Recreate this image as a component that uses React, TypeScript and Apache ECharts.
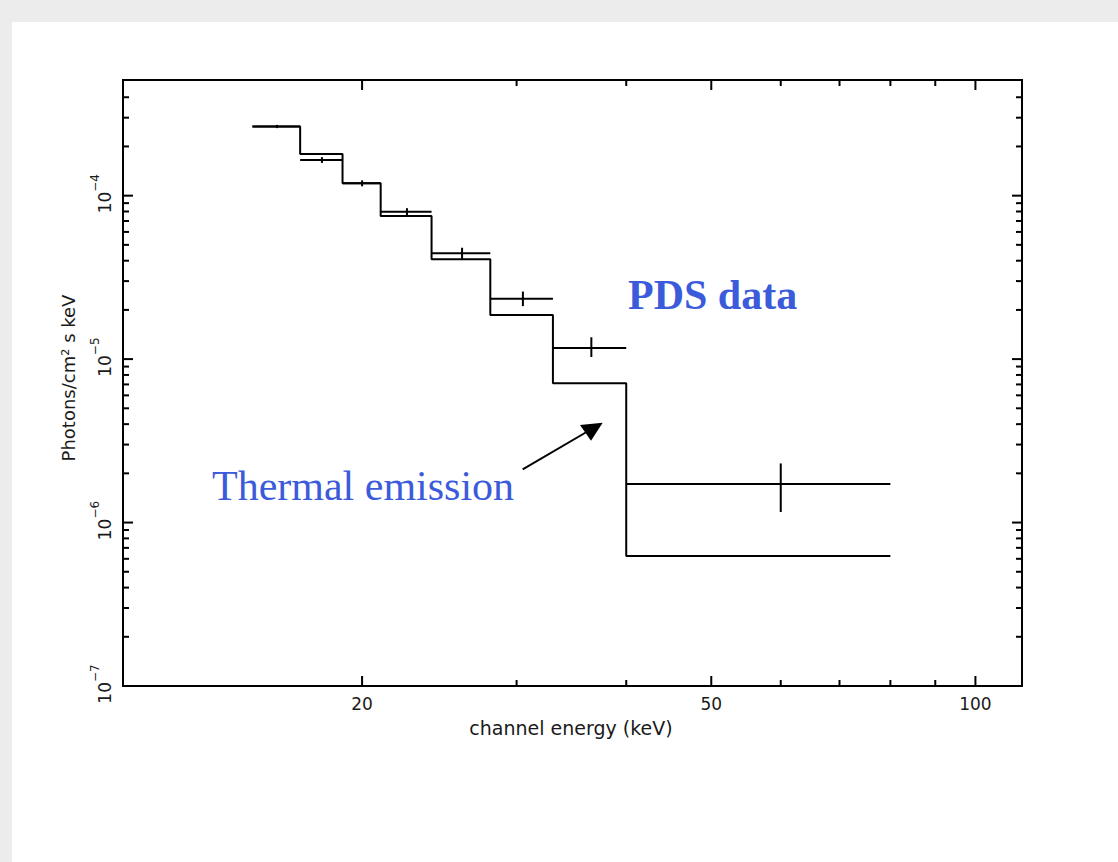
import React, { useEffect, useRef } from "react";
import * as echarts from "echarts";

// Energy bins (keV)
const binLo = [15, 17, 19, 21, 24, 28, 33, 40];
const binHi = [17, 19, 21, 24, 28, 33, 40, 80];
// PDS data points (bin centres), flux and error bars (photons/cm^2 s keV)
const dataEnergy = [16, 18, 20, 22.5, 26, 30.5, 36.5, 60];
const dataFlux = [2.65e-4, 1.65e-4, 1.19e-4, 7.98e-5, 4.44e-5, 2.34e-5, 1.17e-5, 1.72e-6];
const dataErrLo = [2.59e-4, 1.585e-4, 1.14e-4, 7.6e-5, 4.11e-5, 2.11e-5, 1.03e-5, 1.16e-6];
const dataErrHi = [2.71e-4, 1.72e-4, 1.24e-4, 8.38e-5, 4.8e-5, 2.59e-5, 1.36e-5, 2.3e-6];
// Thermal emission model (step per bin)
const modelFlux = [2.65e-4, 1.8e-4, 1.19e-4, 7.51e-5, 4.08e-5, 1.86e-5, 7.11e-6, 6.24e-7];

// Axis ticks
const xMajorTicks = [20, 50, 100];
const xMajorLabels = ["20", "50", "100"];
const xMinorTicks = [30, 40, 60, 70, 80, 90];
const yMajorTicks = [1e-7, 1e-6, 1e-5, 1e-4];
const yMajorExponents = ["\u22127", "\u22126", "\u22125", "\u22124"];
const yMinorTicks = [
  2e-7, 3e-7, 4e-7, 5e-7, 6e-7, 7e-7, 8e-7, 9e-7,
  2e-6, 3e-6, 4e-6, 5e-6, 6e-6, 7e-6, 8e-6, 9e-6,
  2e-5, 3e-5, 4e-5, 5e-5, 6e-5, 7e-5, 8e-5, 9e-5,
  2e-4, 3e-4, 4e-4,
];

const X_MIN = 10.68;
const X_MAX = 113;
const Y_MIN = 1e-7;
const Y_MAX = 5.1e-4;

const AXIS_FONT = '"DejaVu Sans", sans-serif';
const AXIS_COLOR = "#1a1a1a";

export default function App() {
  const ref = useRef<HTMLDivElement>(null);

  useEffect(() => {
    if (!ref.current) return;
    const chart = echarts.init(ref.current, undefined, { renderer: "svg" });

    const modelPoints: number[][] = [];
    binLo.forEach((lo, i) => {
      modelPoints.push([lo, modelFlux[i]]);
      modelPoints.push([binHi[i], modelFlux[i]]);
    });

    const dataRows = dataEnergy.map((e, i) => [
      e, dataFlux[i], dataErrLo[i], dataErrHi[i], binLo[i], binHi[i],
    ]);

    const tickStyle = { stroke: "#000", lineWidth: 2 };

    const xTickRender = (major: boolean) => (params: any, api: any) => {
      const cs = params.coordSys;
      const x = api.coord([api.value(0), Y_MIN])[0];
      const len = major ? 10 : 6;
      const top = cs.y;
      const bottom = cs.y + cs.height;
      const children: any[] = [
        { type: "line", shape: { x1: x, y1: bottom, x2: x, y2: bottom - len }, style: tickStyle },
        { type: "line", shape: { x1: x, y1: top, x2: x, y2: top + len }, style: tickStyle },
      ];
      if (major) {
        children.push({
          type: "text",
          x,
          y: bottom + 18,
          style: {
            text: xMajorLabels[params.dataIndex],
            fill: AXIS_COLOR,
            font: `17px ${AXIS_FONT}`,
            align: "center",
            verticalAlign: "middle",
          },
        });
      }
      return { type: "group", children };
    };

    const yTickRender = (major: boolean) => (params: any, api: any) => {
      const cs = params.coordSys;
      const y = api.coord([X_MIN, api.value(1)])[1];
      const len = major ? 10 : 6;
      const left = cs.x;
      const right = cs.x + cs.width;
      const children: any[] = [
        { type: "line", shape: { x1: left, y1: y, x2: left + len, y2: y }, style: tickStyle },
        { type: "line", shape: { x1: right, y1: y, x2: right - len, y2: y }, style: tickStyle },
      ];
      if (major) {
        children.push({
          type: "text",
          x: left - 22,
          y: y - 2,
          rotation: Math.PI / 2,
          style: {
            text: `{b|10}{s|${yMajorExponents[params.dataIndex]}}`,
            fill: AXIS_COLOR,
            align: "center",
            verticalAlign: "middle",
            rich: {
              b: {
                fontFamily: AXIS_FONT,
                fontSize: 17,
                lineHeight: 24,
                verticalAlign: "bottom",
                fill: AXIS_COLOR,
              },
              s: {
                fontFamily: AXIS_FONT,
                fontSize: 12,
                lineHeight: 14,
                verticalAlign: "top",
                fill: AXIS_COLOR,
              },
            },
          },
        });
      }
      return { type: "group", children };
    };

    const option: any = {
      animation: false,
      backgroundColor: "#ececec",
      grid: {
        left: 123,
        top: 80,
        width: 899,
        height: 606,
        show: true,
        borderColor: "#000",
        borderWidth: 2,
        backgroundColor: "transparent",
        outerBoundsMode: "none",
      },
      xAxis: {
        type: "log",
        logBase: 10,
        min: X_MIN,
        max: X_MAX,
        axisLine: { show: false },
        axisTick: { show: false },
        axisLabel: { show: false },
        splitLine: { show: false },
      },
      yAxis: {
        type: "log",
        logBase: 10,
        min: Y_MIN,
        max: Y_MAX,
        axisLine: { show: false },
        axisTick: { show: false },
        axisLabel: { show: false },
        splitLine: { show: false },
      },
      graphic: [
        {
          type: "rect",
          z: -10,
          silent: true,
          shape: { x: 12, y: 22, width: 1118, height: 862 },
          style: { fill: "#ffffff" },
        },
        {
          type: "text",
          x: 571,
          y: 728,
          silent: true,
          style: {
            text: "channel energy (keV)",
            fill: AXIS_COLOR,
            font: `19px ${AXIS_FONT}`,
            align: "center",
            verticalAlign: "middle",
          },
        },
        {
          type: "text",
          x: 68,
          y: 378,
          rotation: Math.PI / 2,
          silent: true,
          style: {
            text: "Photons/cm\u00B2 s keV",
            fill: AXIS_COLOR,
            font: `18px ${AXIS_FONT}`,
            align: "center",
            verticalAlign: "middle",
          },
        },
        {
          type: "text",
          x: 628,
          y: 295,
          silent: true,
          style: {
            text: "PDS data",
            fill: "#3b5bdb",
            font: 'bold 42px "Liberation Serif", "Times New Roman", serif',
            align: "left",
            verticalAlign: "middle",
          },
        },
        {
          type: "text",
          x: 212,
          y: 486,
          silent: true,
          style: {
            text: "Thermal emission",
            fill: "#3b5bdb",
            font: '42px "Liberation Serif", "Times New Roman", serif',
            align: "left",
            verticalAlign: "middle",
          },
        },
        {
          type: "line",
          silent: true,
          shape: { x1: 522.7, y1: 469.3, x2: 590, y2: 430 },
          style: { stroke: "#000", lineWidth: 2 },
        },
        {
          type: "polygon",
          silent: true,
          shape: { points: [[602.7, 422.7], [580, 425], [591, 440.7]] },
          style: { fill: "#000" },
        },
      ],
      series: [
        {
          name: "Thermal emission model",
          type: "line",
          data: modelPoints,
          showSymbol: false,
          symbol: "none",
          lineStyle: { color: "#000", width: 2 },
          silent: true,
          z: 3,
        },
        {
          name: "PDS data",
          type: "custom",
          data: dataRows,
          encode: { x: 0, y: 1 },
          silent: true,
          clip: false,
          z: 4,
          renderItem: (params: any, api: any) => {
            const c = api.value(0);
            const v = api.value(1);
            const lo = api.value(2);
            const hi = api.value(3);
            const bl = api.value(4);
            const bh = api.value(5);
            const pL = api.coord([bl, v]);
            const pR = api.coord([bh, v]);
            const pB = api.coord([c, lo]);
            const pT = api.coord([c, hi]);
            return {
              type: "group",
              children: [
                { type: "line", shape: { x1: pL[0], y1: pL[1], x2: pR[0], y2: pR[1] }, style: { stroke: "#000", lineWidth: 2 } },
                { type: "line", shape: { x1: pB[0], y1: pB[1], x2: pT[0], y2: pT[1] }, style: { stroke: "#000", lineWidth: 2 } },
              ],
            };
          },
        },
        {
          name: "x major ticks",
          type: "custom",
          data: xMajorTicks.map((v) => [v, Y_MIN]),
          encode: { x: 0, y: 1 },
          silent: true,
          clip: false,
          z: 5,
          renderItem: xTickRender(true),
        },
        {
          name: "x minor ticks",
          type: "custom",
          data: xMinorTicks.map((v) => [v, Y_MIN]),
          encode: { x: 0, y: 1 },
          silent: true,
          clip: false,
          z: 5,
          renderItem: xTickRender(false),
        },
        {
          name: "y major ticks",
          type: "custom",
          data: yMajorTicks.map((v) => [X_MIN, v]),
          encode: { x: 0, y: 1 },
          silent: true,
          clip: false,
          z: 5,
          renderItem: yTickRender(true),
        },
        {
          name: "y minor ticks",
          type: "custom",
          data: yMinorTicks.map((v) => [X_MIN, v]),
          encode: { x: 0, y: 1 },
          silent: true,
          clip: false,
          z: 5,
          renderItem: yTickRender(false),
        },
      ],
    };

    chart.setOption(option);
    return () => chart.dispose();
  }, []);

  return (
    <div
      ref={ref}
      style={{ position: "fixed", left: 0, top: 0, width: 1118, height: 862 }}
    />
  );
}
